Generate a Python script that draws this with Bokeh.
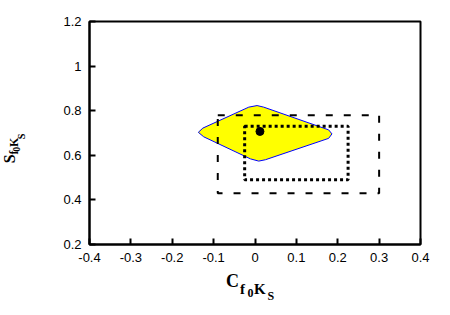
from bokeh.plotting import figure
from bokeh.models import FixedTicker, Range1d, ColumnDataSource
from bokeh.layouts import column, row
from bokeh.core.properties import value
from bokeh.embed import file_html
from bokeh.resources import INLINE
import math

# axis ticks
x_ticks = [-0.4, -0.3, -0.2, -0.1, 0.0, 0.1, 0.2, 0.3, 0.4]
x_tick_labels = ["-0.4", "-0.3", "-0.2", "-0.1", "0", "0.1", "0.2", "0.3", "0.4"]
y_ticks = [0.2, 0.4, 0.6, 0.8, 1.0, 1.2]
y_tick_labels = ["0.2", "0.4", "0.6", "0.8", "1", "1.2"]

# yellow allowed region contour
cont_x = [-0.137, -0.126, -0.015, 0.005, 0.021, 0.178, 0.186, 0.178, 0.025, 0.009, -0.011, -0.124]
cont_y = [0.703, 0.722, 0.816, 0.823, 0.816, 0.714, 0.696, 0.676, 0.580, 0.574, 0.584, 0.683]

# dashed box
dash_x = [-0.09, 0.30]
dash_y = [0.43, 0.78]
# dotted box
dot_x = [-0.025, 0.225]
dot_y = [0.49, 0.73]
# central value
pt_x = [0.012]
pt_y = [0.707]

# axis-label pieces (main letter + subscripts)
xlab_text = ["C", "f", "0", "K", "S"]
ylab_text = ["S", "f", "0", "K", "S"]

SERIF = "Liberation Serif"

p = figure(width=410, height=269, output_backend="svg", toolbar_location=None,
           x_range=Range1d(-0.4, 0.4), y_range=Range1d(0.2, 1.2),
           min_border_left=49, min_border_right=30, min_border_top=21, min_border_bottom=25)
p.xgrid.visible = False
p.ygrid.visible = False
p.outline_line_color = "black"
p.outline_line_width = 2
p.background_fill_color = "white"
p.border_fill_color = "white"

for ax, ticks, labels in ((p.xaxis[0], x_ticks, x_tick_labels), (p.yaxis[0], y_ticks, y_tick_labels)):
    ax.ticker = FixedTicker(ticks=ticks)
    ax.major_label_overrides = {t: l for t, l in zip(ticks, labels)}
    ax.major_tick_in = 6
    ax.major_tick_out = 0
    ax.minor_tick_line_color = None
    ax.major_tick_line_width = 2
    ax.axis_line_width = 2
    ax.major_label_text_font = "Liberation Sans"
    ax.major_label_text_font_size = "13px"
    ax.major_label_text_color = "black"
    ax.major_label_standoff = 8

p.patch(cont_x, cont_y, fill_color="#ffff00", line_color="blue", line_width=1)
p.quad(left=[dash_x[0]], right=[dash_x[1]], bottom=[dash_y[0]], top=[dash_y[1]],
       fill_color=None, line_color="black", line_width=2, line_dash="7 11")
p.quad(left=[dot_x[0]], right=[dot_x[1]], bottom=[dot_y[0]], top=[dot_y[1]],
       fill_color=None, line_color="black", line_width=3, line_dash="3 3")
p.scatter(pt_x, pt_y, size=8, color="black")


def label_fig(w, h):
    f = figure(width=w, height=h, output_backend="svg", toolbar_location=None,
               x_range=Range1d(0, w), y_range=Range1d(0, h),
               x_axis_location=None, y_axis_location=None, min_border=0)
    f.xgrid.visible = False
    f.ygrid.visible = False
    f.outline_line_color = None
    f.background_fill_color = "white"
    f.border_fill_color = "white"
    return f

# x label panel (below), pixel coordinates inside the panel (page y 269..315)
xl = label_fig(450, 46)
xl_src = ColumnDataSource(dict(
    t=xlab_text,
    x=[225.5, 239.5, 247.0, 253.5, 267.0],
    y=[35.0, 27.0, 23.0, 26.8, 20.0],
    s=["18px", "15px", "12px", "15px", "12px"],
))
xl.text(x="x", y="y", text="t", text_font_size="s", source=xl_src,
        text_font=value(SERIF), text_font_style="bold", text_color="black",
        text_align="left", text_baseline="alphabetic")

# y label panel (left)
yl = label_fig(40, 269)
yl_src = ColumnDataSource(dict(
    t=ylab_text,
    x=[8.5, 13.0, 16.0, 13.5, 21.0],
    y=[98.0, 108.5, 112.0, 117.5, 127.0],
    s=["16px", "12px", "10px", "12px", "10px"],
))
yl.text(x="x", y="y", text="t", text_font_size="s", source=yl_src, angle=math.pi / 2,
        text_font=value(SERIF), text_font_style="bold", text_color="black",
        text_align="left", text_baseline="alphabetic")

layout = column(row(yl, p, spacing=0), xl, spacing=0)

open("out.html", "w").write(file_html(layout, INLINE))
